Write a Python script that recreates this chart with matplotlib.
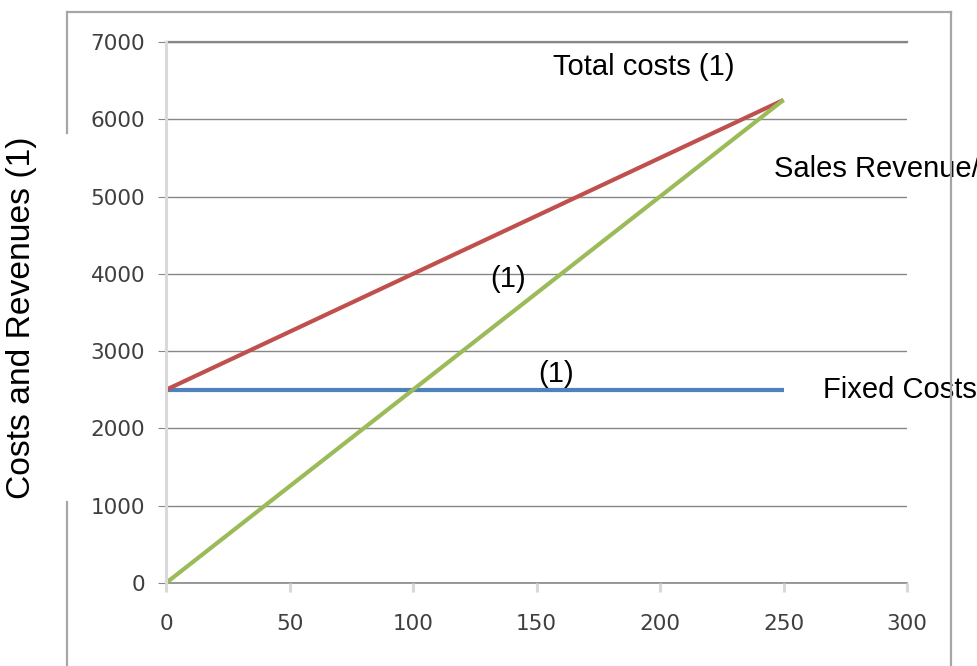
import matplotlib.pyplot as plt
from matplotlib.lines import Line2D

# break-even chart data
units = [0, 50, 100, 150, 200, 250]
fixed_costs = [2500, 2500, 2500, 2500, 2500, 2500]
total_costs = [2500, 3250, 4000, 4750, 5500, 6250]
sales_revenue = [0, 1250, 2500, 3750, 5000, 6250]

x_ticks = [0, 50, 100, 150, 200, 250, 300]
y_ticks = [0, 1000, 2000, 3000, 4000, 5000, 6000, 7000]

W, H = 977, 666
fig = plt.figure(figsize=(W / 100, H / 100), dpi=100)
fig.patch.set_facecolor("white")

# plot area in pixels: x 166..907, y 42..583
ax = fig.add_axes([166 / W, 1 - 583 / H, (907 - 166) / W, (583 - 42) / H])

ax.set_xlim(0, 300)
ax.set_ylim(0, 7000)
ax.set_xticks(x_ticks)
ax.set_yticks(y_ticks)

ax.grid(axis="y", color="#878787", lw=1)
ax.set_axisbelow(True)
ax.axhline(7000, color="#878787", lw=1.6, clip_on=False, zorder=0.5)
ax.axhline(0, color="#878787", lw=1.2, clip_on=False, zorder=0.5)

ax.plot(units, fixed_costs, color="#4f81bd", lw=3, solid_capstyle="butt")
ax.plot(units, total_costs, color="#c0504d", lw=3, solid_capstyle="butt")
ax.plot(units, sales_revenue, color="#9bbb59", lw=3, solid_capstyle="butt")

for side in ["top", "right", "bottom"]:
    ax.spines[side].set_visible(False)
ax.spines["left"].set_color("#d9d9d9")
ax.spines["left"].set_linewidth(2.2)

ax.tick_params(axis="y", direction="out", length=6, width=0.8, color="#878787",
               pad=9, labelsize=15.5, labelcolor="#3f3f3f")
ax.tick_params(axis="x", direction="out", length=6.5, width=2.2, color="#d9d9d9",
               pad=16, labelsize=15.5, labelcolor="#3f3f3f")

txt = dict(family="Liberation Sans", fontsize=21, color="black", va="baseline", clip_on=False)
ax.text(156.7, 6573, "Total costs (1)", **txt)
ax.text(246.2, 5253, "Sales Revenue/", **txt)
ax.text(266, 2394, "Fixed Costs", **txt)
ax.text(131.2, 3830, "(1)", **txt)
ax.text(150.6, 2601, "(1)", **txt)

fig.text(22 / W, 1 - 318 / H, "Costs and Revenues (1)", rotation=90,
         family="Liberation Sans", fontsize=24.2, ha="center", va="center")

# chart frame, left edge broken around the axis title
frame = dict(color="#a6a6a6", lw=1.6, transform=fig.transFigure)
def px(x, y):
    return x / W, 1 - y / H
for (x0, y0), (x1, y1) in [((67, 12), (951, 12)), ((951, 12), (951, 666)),
                           ((67, 12), (67, 133)), ((67, 502), (67, 666))]:
    a, b = px(x0, y0), px(x1, y1)
    fig.add_artist(Line2D([a[0], b[0]], [a[1], b[1]], **frame))

fig.savefig("out.png", dpi=100)
